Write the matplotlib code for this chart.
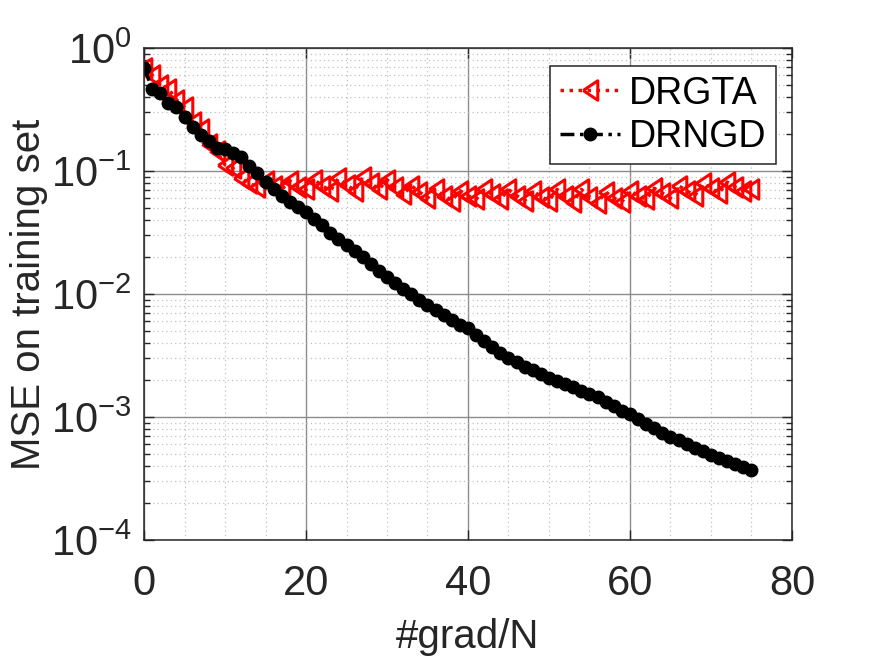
import matplotlib
matplotlib.use('Agg')
import matplotlib.pyplot as plt
import matplotlib.ticker as ticker
import numpy as np

# gradient evaluations / N
iters = list(range(0, 76))

# MSE on training set
drgta = [0.692, 0.603, 0.501, 0.468, 0.380, 0.331, 0.251, 0.219, 0.166, 0.145,
         0.112, 0.105, 0.0871, 0.0794, 0.0741, 0.0832, 0.0759, 0.0708, 0.0832, 0.0741,
         0.0708, 0.0851, 0.0759, 0.0692, 0.0871, 0.0776, 0.0692, 0.0891, 0.0794, 0.0708,
         0.0851, 0.0741, 0.0646, 0.0759, 0.0676, 0.0603, 0.0708, 0.0631, 0.0575, 0.0692,
         0.0631, 0.0589, 0.0708, 0.0646, 0.0589, 0.0708, 0.0631, 0.0575, 0.0692, 0.0617,
         0.0575, 0.0708, 0.0631, 0.0562, 0.0708, 0.0617, 0.0550, 0.0676, 0.0603, 0.0562,
         0.0692, 0.0631, 0.0589, 0.0724, 0.0661, 0.0603, 0.0759, 0.0692, 0.0631, 0.0794,
         0.0724, 0.0661, 0.0813, 0.0741, 0.0692, 0.0708]

drngd = [0.692, 0.468, 0.427, 0.355, 0.331, 0.275, 0.229, 0.195, 0.174, 0.155,
         0.151, 0.141, 0.129, 0.110, 0.0955, 0.0813, 0.0708, 0.0631, 0.0562, 0.0513,
         0.0468, 0.0407, 0.0363, 0.0316, 0.0282, 0.0251, 0.0224, 0.0200, 0.0174, 0.0155,
         0.0138, 0.0123, 0.0110, 0.0100, 0.00891, 0.00813, 0.00741, 0.00676, 0.00617, 0.00562,
         0.00525, 0.00468, 0.00417, 0.00372, 0.00331, 0.00302, 0.00282, 0.00257, 0.00240, 0.00224,
         0.00209, 0.00195, 0.00186, 0.00174, 0.00162, 0.00155, 0.00145, 0.00132, 0.00123, 0.00112,
         0.00105, 0.000955, 0.000871, 0.000813, 0.000741, 0.000692, 0.000646, 0.000603, 0.000562, 0.000525,
         0.000490, 0.000468, 0.000437, 0.000417, 0.000389, 0.000372]

plt.rcParams['font.family'] = ['Liberation Sans', 'DejaVu Sans']
plt.rcParams['mathtext.default'] = 'regular'
txt = '#262626'

# narrower left-pointing triangle, like MATLAB's '<'
tri_left = [(-0.75, 0), (0.75, 1), (0.75, -1), (-0.75, 0)]

fig = plt.figure(figsize=(8.75, 6.56), dpi=100)
ax = fig.add_axes([0.1646, 0.1768, 0.7405, 0.75])

ax.plot(iters, drgta, ls=(0, (1, 1.6)), color='red', lw=2.5, marker=tri_left, ms=14,
        mfc='none', mec='red', mew=2.2, label='DRGTA')
ax.plot(iters, drngd, ls=(0, (4, 1.6, 1, 1.6)), color='black', lw=2.5, marker='o', ms=9,
        mfc='black', mec='black', label='DRNGD')

ax.set_yscale('log')
ax.set_xlim(0, 80)
ax.set_ylim(1e-4, 1)
ax.set_xticks([0, 20, 40, 60, 80])
ax.xaxis.set_minor_locator(ticker.MultipleLocator(5))
ax.yaxis.set_major_locator(ticker.LogLocator(base=10, numticks=10))
ax.yaxis.set_minor_locator(ticker.LogLocator(base=10, subs=np.arange(2, 10), numticks=20))
ax.yaxis.set_minor_formatter(ticker.NullFormatter())

ax.grid(True, which='major', color='#8c8c8c', lw=1.0, ls='-')
ax.grid(True, which='minor', color='#c0c0c0', lw=0.9, ls=(0, (1, 2.5)))
ax.set_axisbelow(True)

ax.tick_params(which='both', direction='in', top=True, right=True, colors=txt,
               labelsize=30, width=1)
ax.tick_params(which='major', length=7)
ax.tick_params(axis='x', which='major', pad=17)
ax.tick_params(axis='y', which='major', pad=9)
ax.tick_params(axis='y', which='minor', length=4)
ax.tick_params(axis='x', which='minor', length=0)
for s in ax.spines.values():
    s.set_color(txt)
    s.set_linewidth(1.1)

ax.set_xlabel('#grad/N', fontsize=29, color=txt, labelpad=10)
ax.set_ylabel('MSE on training set', fontsize=29, color=txt, labelpad=2)

leg = ax.legend(loc='upper right', bbox_to_anchor=(0.975, 0.963), borderaxespad=0,
                fontsize=27, fancybox=False, framealpha=1, edgecolor=txt,
                handlelength=1.6, handletextpad=0.25, labelspacing=0.2,
                borderpad=0.25)
leg.get_frame().set_linewidth(1.1)

fig.savefig('out.png', dpi=100)
